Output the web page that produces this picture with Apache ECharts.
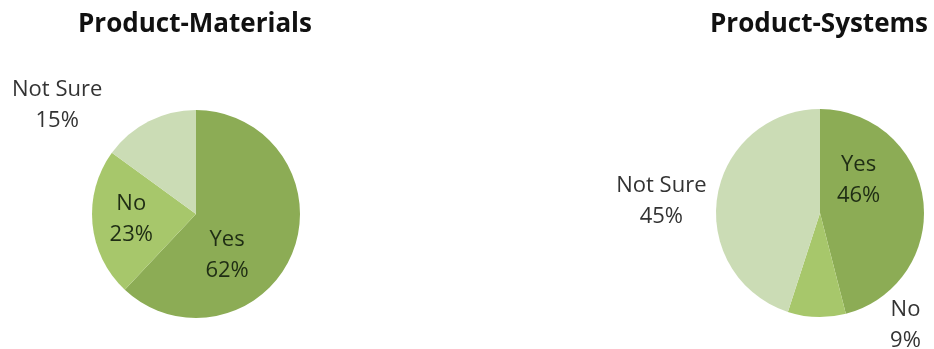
<!DOCTYPE html>
<html>
<head>
<meta charset="utf-8">
<script src="https://cdn.jsdelivr.net/npm/echarts@6/dist/echarts.min.js"></script>
<style>
  html, body { margin: 0; padding: 0; background: #ffffff; }
  #chart { width: 934px; height: 349px; }
</style>
</head>
<body>
<div id="chart"></div>
<script>
// Survey answers for the two product areas (percent of respondents)
const answerCategories = ['Yes', 'No', 'Not Sure'];
const materialsValues = [62, 23, 15];
const systemsValues = [46, 9, 45];
const chartTitles = ['Product-Materials', 'Product-Systems'];

const sliceColors = ['#8cac55', '#a7c76b', '#cbdcb5'];
const FONT = '"Open Sans", "Liberation Sans", sans-serif';

// Per-slice label placement: inside or outside the pie, plus a nudge
const materialsLabels = [
  { position: 'inside', dx: -20, dy: 21 },
  { position: 'inside', dx: -10, dy: 0 },
  { position: 'outside', dx: -83, dy: -9 }
];
const systemsLabels = [
  { position: 'inside', dx: -16, dy: -26 },
  { position: 'outside', dx: 94, dy: 0 },
  { position: 'outside', dx: -43, dy: 6 }
];

function buildData(values, labels) {
  return answerCategories.map((name, i) => ({
    name: name,
    value: values[i],
    itemStyle: { color: sliceColors[i] },
    label: {
      position: labels[i].position,
      color: labels[i].position === 'inside' ? '#1f2d14' : '#333333'
    },
    labelLine: { show: false }
  }));
}

function pieSeries(values, labels, center) {
  return {
    type: 'pie',
    center: center,
    radius: 104,
    startAngle: 90,
    clockwise: true,
    silent: true,
    avoidLabelOverlap: false,
    label: {
      formatter: '{b}\n{c}%',
      fontFamily: FONT,
      fontSize: 22,
      lineHeight: 31,
      align: 'center'
    },
    labelLine: { show: false, length: 8, length2: 0 },
    labelLayout: function (p) {
      const l = labels[p.dataIndex];
      return { dx: l.dx, dy: l.dy, align: 'center' };
    },
    data: buildData(values, labels)
  };
}

const chart = echarts.init(document.getElementById('chart'), null, { renderer: 'canvas' });
chart.setOption({
  backgroundColor: '#ffffff',
  animation: false,
  title: [
    { text: chartTitles[0], left: 190, top: 7, textAlign: 'center',
      textStyle: { fontFamily: FONT, fontWeight: 'bold', fontSize: 26, color: '#111111' } },
    { text: chartTitles[1], left: 814, top: 7, textAlign: 'center',
      textStyle: { fontFamily: FONT, fontWeight: 'bold', fontSize: 26, color: '#111111' } }
  ],
  series: [
    pieSeries(materialsValues, materialsLabels, [196, 214]),
    pieSeries(systemsValues, systemsLabels, [820, 213])
  ]
});
</script>
</body>
</html>
